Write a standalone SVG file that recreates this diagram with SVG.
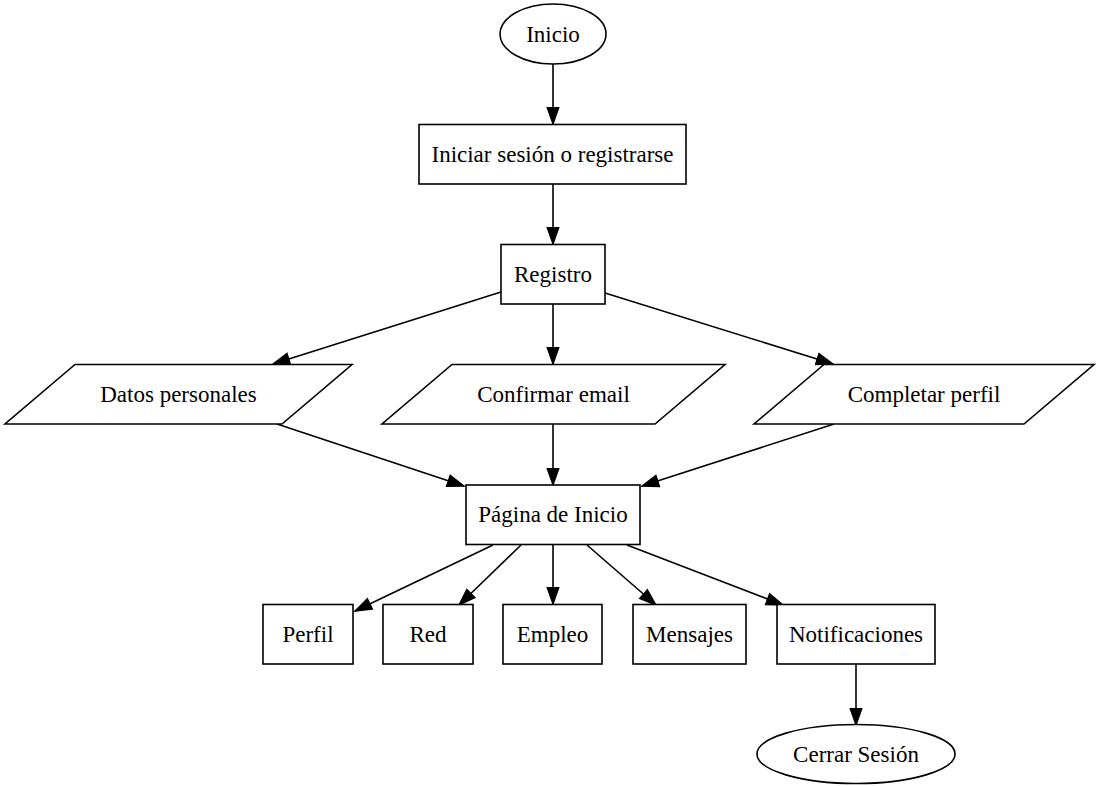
<svg xmlns="http://www.w3.org/2000/svg" width="1099" height="786" viewBox="0 0 1099 786">
<style>
.n{fill:#fff;stroke:#000;stroke-width:1.6}
.t{font-family:"Liberation Serif","Times New Roman",serif;font-size:23px;fill:#000;text-anchor:middle}
.e{stroke:#000;stroke-width:1.6;fill:none;marker-end:url(#ah)}
</style>
<defs>
<marker id="ah" markerUnits="userSpaceOnUse" markerWidth="20" markerHeight="14" refX="16.5" refY="6" orient="auto" viewBox="-1 0 20 12">
<path d="M0,0.2 L16.5,6 L0,11.8 Z" fill="#000" stroke="#000" stroke-width="1.4"/>
</marker>
</defs>
<rect width="1099" height="786" fill="#fff"/>
<g id="connectors">
<line class="e" x1="553" y1="64" x2="553" y2="124"/>
<line class="e" x1="553" y1="184" x2="553" y2="244"/>
<line class="e" x1="501" y1="292" x2="273" y2="364"/>
<line class="e" x1="553" y1="304" x2="553" y2="364"/>
<line class="e" x1="605" y1="293" x2="833" y2="364"/>
<line class="e" x1="277" y1="424" x2="464" y2="486"/>
<line class="e" x1="553" y1="424" x2="553" y2="485"/>
<line class="e" x1="834" y1="424" x2="642" y2="486"/>
<line class="e" x1="493" y1="545" x2="355" y2="611"/>
<line class="e" x1="521" y1="545" x2="459" y2="605"/>
<line class="e" x1="553" y1="544" x2="553" y2="604"/>
<line class="e" x1="587" y1="545" x2="656" y2="605"/>
<line class="e" x1="627" y1="545" x2="783" y2="605"/>
<line class="e" x1="856" y1="664" x2="856" y2="725"/>
</g>
<g id="inicio"><ellipse class="n" cx="553" cy="34" rx="53" ry="30"/><text class="t" x="553" y="41.5">Inicio</text></g>
<g id="iniciar"><rect class="n" x="419" y="124.5" width="267" height="59.5"/><text class="t" x="552.5" y="161.5">Iniciar sesión o registrarse</text></g>
<g id="registro"><rect class="n" x="501" y="244.5" width="104" height="59.5"/><text class="t" x="553" y="281.5">Registro</text></g>
<g id="datos"><polygon class="n" points="75,364.5 352,364.5 282,424 5,424"/><text class="t" x="178.5" y="401.5">Datos personales</text></g>
<g id="confirmar"><polygon class="n" points="452,364.5 725,364.5 655,424 382,424"/><text class="t" x="553.5" y="401.5">Confirmar email</text></g>
<g id="completar"><polygon class="n" points="824,364.5 1094,364.5 1024,424 754,424"/><text class="t" x="924" y="401.5">Completar perfil</text></g>
<g id="pagina"><rect class="n" x="466" y="485" width="174" height="59.5"/><text class="t" x="553" y="522">Página de Inicio</text></g>
<g id="perfil"><rect class="n" x="263" y="604.5" width="90" height="59.5"/><text class="t" x="308" y="641.5">Perfil</text></g>
<g id="red"><rect class="n" x="383" y="604.5" width="90" height="59.5"/><text class="t" x="428" y="641.5">Red</text></g>
<g id="empleo"><rect class="n" x="503" y="604.5" width="99" height="59.5"/><text class="t" x="552.5" y="641.5">Empleo</text></g>
<g id="mensajes"><rect class="n" x="633" y="604.5" width="113" height="59.5"/><text class="t" x="689.5" y="641.5">Mensajes</text></g>
<g id="notificaciones"><rect class="n" x="777" y="604.5" width="158" height="59.5"/><text class="t" x="856" y="641.5">Notificaciones</text></g>
<g id="cerrar"><ellipse class="n" cx="856" cy="754" rx="99" ry="29.5"/><text class="t" x="856" y="761.5">Cerrar Sesión</text></g>
</svg>
